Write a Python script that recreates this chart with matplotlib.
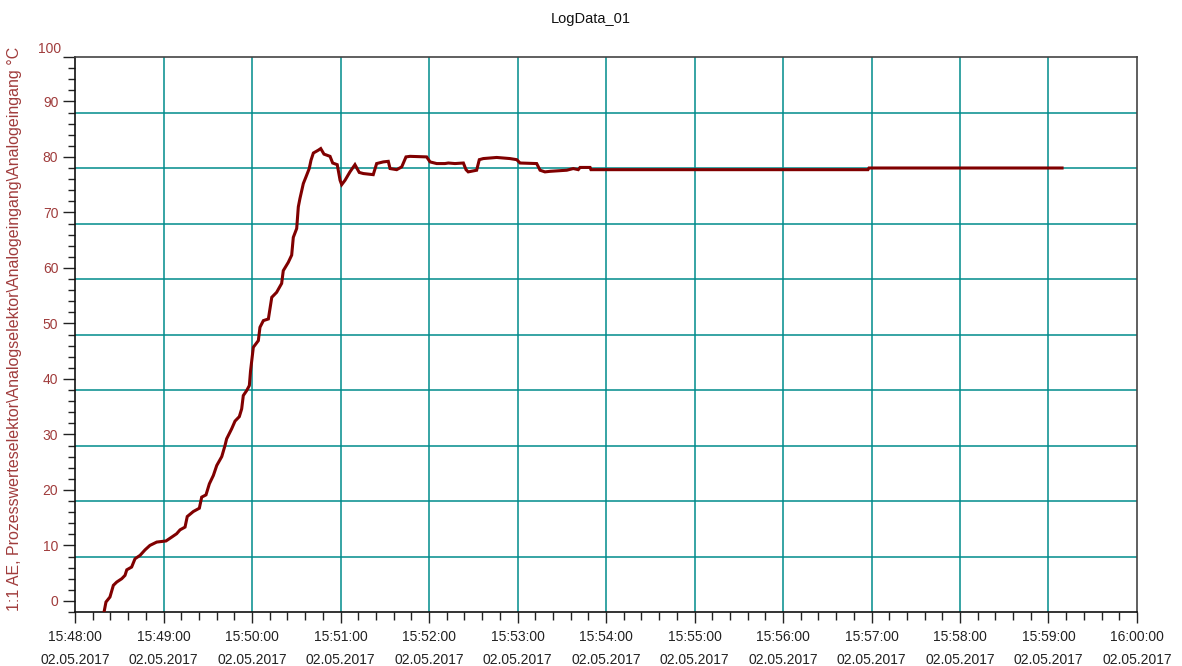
import matplotlib
matplotlib.use("Agg")
import matplotlib.pyplot as plt
import matplotlib.dates as mdates
import pandas as pd
import numpy as np

plt.rcParams['font.family'] = ['Liberation Sans', 'DejaVu Sans']

title = "LogData_01"
y_label = "1:1 AE, Prozesswerteselektor\\Analogselektor\\Analogeingang\\Analogeingang °C"
start_time = "2017-05-02 15:48:00"
end_time = "2017-05-02 16:00:00"

# seconds after 15:48:00
t_seconds = [19.7, 21.0, 23.7, 26.0, 28.3, 31.7, 33.9, 35.1, 38.4, 40.7, 44.1, 47.5, 50.8,
             55.4, 61.7, 65.6, 68.9, 71.2, 74.6, 76.1, 80.2, 84.3, 85.9, 88.8, 91.1, 93.8,
             96.1, 99.5, 101.7, 102.8, 106.2, 108.5, 111.4, 113.0, 114.1, 116.4, 118.2,
             119.0, 120.9, 124.3, 125.4, 127.7, 131.1, 133.4, 136.7, 140.1, 141.2, 144.6,
             146.9, 148.0, 150.3, 151.4, 152.5, 154.8, 156.6, 158.8, 160.0, 161.6, 164.9,
             166.6, 168.8, 172.9, 174.7, 177.8, 179.7, 180.8, 183.1, 186.4, 189.8, 192.7,
             195.5, 202.2, 204.5, 209.0, 212.4, 213.6, 218.1, 221.5, 224.4, 227.1, 238.4,
             240.7, 245.2, 250.8, 253.1, 257.6, 263.3, 265.1, 266.6, 272.3, 274.1, 276.8,
             285.9, 294.9, 299.5, 301.7, 313.0, 315.3, 318.6, 322.0, 333.4, 337.8, 341.2,
             342.4, 349.2, 349.8, 537.6, 538.3, 669.2]
temperature = [-2.0, -0.2, 0.7, 2.8, 3.4, 4.0, 4.6, 5.6, 6.1, 7.6, 8.2, 9.2, 10.0,
               10.6, 10.8, 11.5, 12.1, 12.8, 13.3, 15.2, 16.1, 16.7, 18.7, 19.1, 21.1, 22.6,
               24.4, 26.0, 28.0, 29.2, 31.0, 32.4, 33.2, 34.6, 37.0, 37.9, 38.8,
               41.4, 45.7, 46.9, 49.3, 50.5, 50.8, 54.7, 55.6, 57.2, 59.5, 61.0,
               62.3, 65.5, 67.1, 71.0, 72.5, 75.2, 76.4, 77.9, 79.4, 80.7, 81.2,
               81.5, 80.5, 80.1, 78.9, 78.6, 75.8, 75.0, 75.8, 77.3, 78.6, 77.2,
               77.0, 76.8, 78.8, 79.1, 79.2, 77.9, 77.7, 78.2, 80.0, 80.1, 80.0,
               79.1, 78.8, 78.8, 78.9, 78.8, 78.9, 77.7, 77.3, 77.6, 79.5, 79.7,
               79.9, 79.7, 79.5, 78.9, 78.8, 77.6, 77.3, 77.4, 77.6, 77.9, 77.7,
               78.1, 78.1, 77.7, 77.7, 78.0, 78.0]

y_ticks = [0, 10, 20, 30, 40, 50, 60, 70, 80, 90]
y_min, y_max = -2, 98
grid_values = [8, 18, 28, 38, 48, 58, 68, 78, 88]

W, H = 1182, 666
fig = plt.figure(figsize=(W / 100, H / 100), dpi=100)
L, R, T, B = 75, 1137, 57, 612
ax = fig.add_axes([L / W, 1 - B / H, (R - L) / W, (B - T) / H])

t0 = pd.Timestamp(start_time)
times = t0 + pd.to_timedelta(t_seconds, unit="s")

teal = "#008b8b"
for gv in grid_values:
    ax.axhline(gv, color=teal, lw=1.1, zorder=1)
minute_lines = pd.date_range(t0 + pd.Timedelta(minutes=1), pd.Timestamp(end_time) - pd.Timedelta(minutes=1), freq="1min")
for m in minute_lines:
    ax.axvline(m, color=teal, lw=1.1, zorder=1)

ax.plot(times, temperature, color="#800000", lw=2.2, zorder=3, solid_joinstyle="miter")

ax.set_xlim(t0, pd.Timestamp(end_time))
ax.set_ylim(y_min, y_max)

ax.xaxis.set_major_locator(mdates.MinuteLocator())
ax.xaxis.set_minor_locator(mdates.SecondLocator(bysecond=range(0, 60, 12)))
ax.xaxis.set_major_formatter(mdates.DateFormatter("%H:%M:%S\n%d.%m.%Y"))

ax.set_yticks(y_ticks + [98])
ax.set_yticklabels([str(v) for v in y_ticks] + [""])
ax.set_yticks(np.arange(-2, 99, 2), minor=True)

ax.tick_params(axis="y", which="major", length=9, width=1, color="#222222", pad=3,
               labelsize=10, labelcolor="#a03c3c")
ax.tick_params(axis="y", which="minor", length=5, width=1, color="#222222")
ax.tick_params(axis="x", which="major", length=8, width=1, color="#222222", pad=5,
               labelsize=10, labelcolor="#222222")
ax.tick_params(axis="x", which="minor", length=5.5, width=1, color="#222222")
for lab in ax.get_xticklabels():
    lab.set_linespacing(1.85)

for s in ["left", "bottom"]:
    ax.spines[s].set_color("#111111")
    ax.spines[s].set_linewidth(1.2)
for s in ["top", "right"]:
    ax.spines[s].set_color("#444444")
    ax.spines[s].set_linewidth(1.2)

fig.text(61 / W, 1 - 49 / H, "100", ha="right", va="center", fontsize=10, color="#a03c3c")
fig.text(15 / W, 1 - 329 / H, y_label, rotation=90, ha="center", va="center",
         fontsize=11.5, color="#a03c3c")
fig.text(0.5, 1 - 19 / H, title, ha="center", va="center", fontsize=10.5, color="#111111")

fig.savefig("out.png", dpi=100)
